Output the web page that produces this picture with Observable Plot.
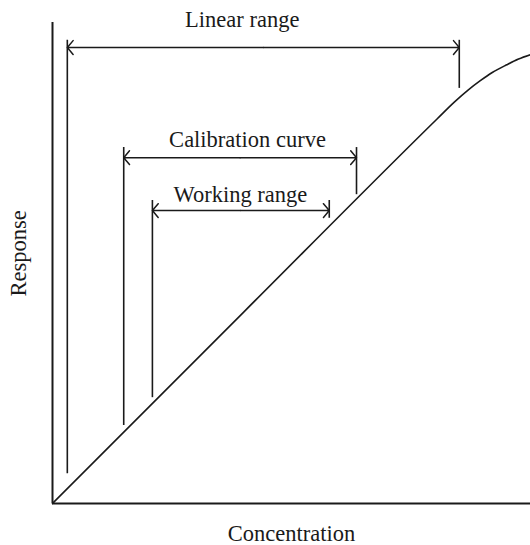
<!DOCTYPE html>
<html>
<head>
<meta charset="utf-8">
<script src="https://cdn.jsdelivr.net/npm/d3@7"></script>
<script src="https://cdn.jsdelivr.net/npm/@observablehq/plot@0.6"></script>
<style>
  html, body { margin: 0; padding: 0; background: #fff; }
  #chart svg { display: block; }
</style>
</head>
<body>
<div id="chart"></div>
<script>
// Response curve (concentration vs response, arbitrary units)
const concentration = [0, 40, 80.5, 84, 87, 89.5, 92, 95, 97.5, 100];
const response      = [0, 39.8, 80.0, 83.4, 86.0, 87.9, 89.6, 91.2, 92.4, 93.3];

// Ranges shown as brackets
const rangeNames   = ["Linear range", "Calibration curve", "Working range"];
const rangeStart   = [3.1, 14.9, 20.9];
const rangeEnd     = [85.1, 63.6, 57.9];
const rangeLevel   = [94.8, 71.9, 60.9];
const rangeTop     = [96.3, 74.0, 63.0];
const startBottom  = [6.2, 16.2, 22.0];
const endBottom    = [86.3, 64.2, 59.3];
const labelX       = [39.7, 40.8, 39.3];
const labelY       = [100.5, 75.6, 64.1];

const xLabel = "Concentration";
const yLabel = "Response";

const curve = concentration.map((c, i) => ({c, r: response[i]}));
const ranges = rangeNames.map((name, i) => ({
  name, x1: rangeStart[i], x2: rangeEnd[i], y: rangeLevel[i],
  top: rangeTop[i], b1: startBottom[i], b2: endBottom[i],
  mid: (rangeStart[i] + rangeEnd[i]) / 2, lx: labelX[i], ly: labelY[i]
}));

const ink = "#1a1a1a";
const font = "'Liberation Serif', 'Times New Roman', serif";
const fs = 22.5;

const chart = Plot.plot({
  width: 530,
  height: 545,
  marginLeft: 52,
  marginRight: 0,
  marginTop: 22,
  marginBottom: 42,
  x: {domain: [0, 100], axis: null},
  y: {domain: [0, 100], axis: null},
  style: {fontFamily: font, background: "#fff"},
  marks: [
    // axes
    Plot.ruleX([0], {y1: 0, y2: 100, stroke: ink, strokeWidth: 2}),
    Plot.ruleY([0], {x1: 0, x2: 100, stroke: ink, strokeWidth: 2}),
    // response curve
    Plot.line(curve, {x: "c", y: "r", curve: "monotone-x", stroke: ink, strokeWidth: 1.6}),
    // bracket vertical lines
    Plot.ruleX(ranges, {x: "x1", y1: "b1", y2: "top", stroke: ink, strokeWidth: 1.6}),
    Plot.ruleX(ranges, {x: "x2", y1: "b2", y2: "top", stroke: ink, strokeWidth: 1.6}),
    // double-headed arrows
    Plot.arrow(ranges, {x1: "mid", y1: "y", x2: "x1", y2: "y", stroke: ink, strokeWidth: 1.5, headLength: 9, headAngle: 100}),
    Plot.arrow(ranges, {x1: "mid", y1: "y", x2: "x2", y2: "y", stroke: ink, strokeWidth: 1.5, headLength: 9, headAngle: 100}),
    // range labels
    Plot.text(ranges, {x: "lx", y: "ly", text: "name", fontSize: fs, fill: ink, textAnchor: "middle", lineAnchor: "middle"}),
    // axis labels
    Plot.text([xLabel], {x: 50, y: -6.4, text: d => d, fontSize: fs, fill: ink, textAnchor: "middle", lineAnchor: "middle"}),
    Plot.text([yLabel], {x: -7.15, y: 52, text: d => d, fontSize: fs, fill: ink, rotate: -90, textAnchor: "middle", lineAnchor: "middle"})
  ]
});
document.getElementById("chart").appendChild(chart);
</script>
</body>
</html>
